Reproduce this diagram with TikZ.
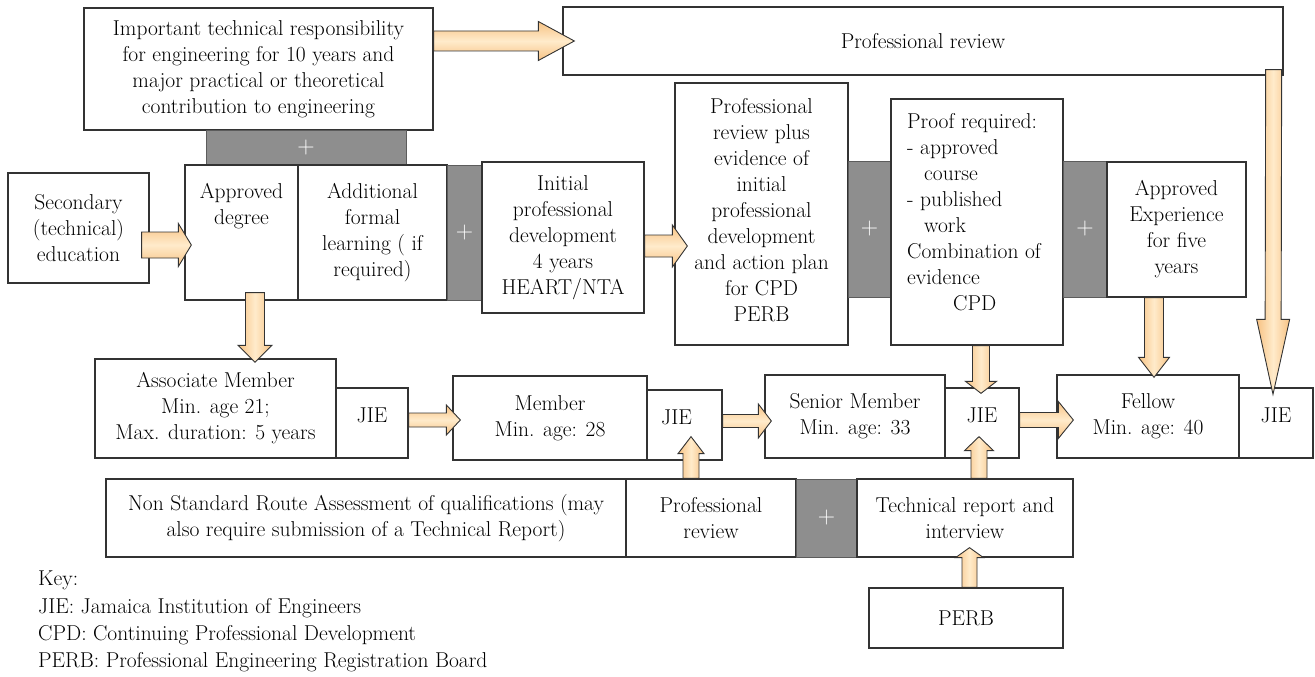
\documentclass[tikz,border=0pt]{standalone}
\usepackage{fontspec}
\newcommand\tnr{\rmfamily}
\usetikzlibrary{calc}
\definecolor{ao}{HTML}{F7C283}
\definecolor{ai}{HTML}{FFEBCB}
\definecolor{gfill}{HTML}{8E8E8E}
\definecolor{edge}{HTML}{333333}
\tikzset{
 box/.style={draw=edge,line width=1.3pt,fill=white,inner sep=0pt,align=center,font=\tnr\fontsize{21.5}{26}\selectfont},
 jiebox/.style={box,text depth=16pt},
 gbox/.style={draw=edge!80,line width=1pt,fill=gfill,inner sep=0pt,text=white,font=\tnr\fontsize{24}{24}\selectfont},
 rect/.style n args={4}{minimum width={(#3-#1)*1pt},minimum height={(#4-#2)*1pt},at={({(#1+#3)/2},{(#2+#4)/2})}},
 txt/.style={inner sep=0pt,align=center,font=\tnr\fontsize{21.5}{26}\selectfont},
 arr/.style={draw=edge,line width=0.9pt,line join=miter},
 harr/.style={arr,top color=ao,bottom color=ao,middle color=ai},
 varr/.style={arr,left color=ao,right color=ao,middle color=ai},
}
% block arrow: [style]{start}{tip}{shaft half}{head half}{head length}
\newcommand\barrow[6][harr]{%
 \coordinate (bh) at ($(#3)!#6pt!(#2)$);
 \draw[#1] ($(#2)!#4pt!90:(#3)$) -- ($(bh)!#4pt!90:(#3)$) -- ($(bh)!#5pt!90:(#3)$) -- (#3)
   -- ($(bh)!#5pt!-90:(#3)$) -- ($(bh)!#4pt!-90:(#3)$) -- ($(#2)!#4pt!-90:(#3)$) -- cycle;
}
\begin{document}
\begin{tikzpicture}[x=1pt,y=-1pt]
\useasboundingbox (0,0) rectangle (1315,677);
\fill[white] (0,0) rectangle (1315,677);
% row 1
\node[box,rect={84}{8}{433}{130}] (imp) {Important technical responsibility\\for engineering for 10 years and\\major practical or theoretical\\contribution to engineering};
\node[gbox,rect={206}{130}{406}{165}] (g1) {+};
\node[box,rect={563}{7}{1283}{75}] (prt) {Professional review};
% row 2
\node[box,rect={8}{173}{149}{283}] (sec) {Secondary\\(technical)\\education};
\node[box,rect={185}{165}{298}{300}] (appr) {};
\node[txt,anchor=north] (apprt) at (241.5,183) {Approved\\degree};
\node[box,rect={298}{165}{447}{300}] (addl) {Additional\\formal\\learning ( if\\required)};
\node[gbox,rect={447}{165}{482}{300}] (g2) {+};
\node[box,rect={482}{162}{644}{313}] (init) {Initial\\professional\\development\\4 years\\HEART/NTA};
\node[box,rect={675}{83}{848}{345}] (prp) {};
\node[txt] (prpt) at (761.5,210) {Professional\\review plus\\evidence of\\initial\\professional\\development\\and action plan\\for CPD\\PERB};
\node[gbox,rect={848}{161}{891}{297}] (g3) {+};
\node[box,rect={891}{99}{1063}{345}] (proof) {};
\node[txt,align=left,anchor=north west] (prooft) at (907,113) {Proof required:\\- approved\\\hspace*{17pt}course\\- published\\\hspace*{17pt}work\\Combination of\\evidence\\\hspace*{46pt}CPD};
\node[gbox,rect={1063}{161}{1107}{297}] (g4) {+};
\node[box,rect={1107}{162}{1246}{297}] (aexp) {Approved\\Experience\\for five\\years};
% row 3
\node[box,rect={95}{359}{336}{458}] (assoc) {Associate Member\\Min. age 21;\\Max. duration: 5 years};
\node[jiebox,rect={336}{388}{408}{458}] (jie1) {JIE};
\node[box,rect={453}{376}{647}{460}] (mem) {Member\\Min. age: 28};
\node[jiebox,rect={647}{390}{722}{460}] (jie2) {\hspace*{-16pt}JIE};
\node[box,rect={765}{375}{945}{458}] (sen) {Senior Member\\Min. age: 33};
\node[jiebox,rect={945}{388}{1019}{458}] (jie3) {JIE};
\node[box,rect={1057}{375}{1239}{458}] (fel) {Fellow\\Min. age: 40};
\node[jiebox,rect={1239}{388}{1313}{458}] (jie4) {JIE};
% row 4
\node[box,rect={106}{479}{626}{557}] (nsr) {Non Standard Route Assessment of qualifications (may\\also require submission of a Technical Report)};
\node[box,rect={626}{479}{796}{557}] (prb) {Professional\\review};
\node[gbox,rect={796}{479}{857}{557}] (g5) {+};
\node[box,rect={857}{479}{1073}{557}] (tech) {Technical report and\\interview};
\node[box,rect={869}{588}{1063}{648}] (perb) {PERB};
% key
\node[txt,align=left,anchor=north west,font=\tnr\fontsize{21.5}{27.3}\selectfont] (key) at (38,571) {Key:\\JIE: Jamaica Institution of Engineers\\CPD: Continuing Professional Development\\PERB: Professional Engineering Registration Board};
% connectors
\coordinate (a1s) at (imp.east |- prt.west);
\coordinate (a1e) at ($(prt.west)+(12,0)$);
\barrow{a1s}{a1e}{10}{19.5}{36}
\coordinate (a2s) at ($(sec.east)+(-8,17)$);
\coordinate (a2e) at ($(appr.west)+(7,12.5)$);
\barrow{a2s}{a2e}{13}{21.5}{13}
\coordinate (a3s) at ($(appr.south)+(13.5,-8)$);
\coordinate (a3e) at ($(assoc.north)+(39.5,4)$);
\barrow[varr]{a3s}{a3e}{9.5}{17}{17}
\coordinate (a4s) at ($(init.east)+(0,8.5)$);
\coordinate (a4e) at ($(prp.west)+(13,32)$);
\barrow{a4s}{a4e}{11}{21}{15}
\coordinate (a5s) at ($(proof.south)+(4,0)$);
\coordinate (a5e) at ($(jie3.north)+(-1,6)$);
\barrow[varr]{a5s}{a5e}{8.5}{15.5}{12}
\coordinate (a6s) at ($(aexp.south)+(-22.5,0)$);
\coordinate (a6e) at ($(fel.north)+(6,3)$);
\barrow[varr]{a6s}{a6e}{9.5}{15.5}{20}
\coordinate (a7s) at ($(prt.south east)+(-10,-6)$);
\coordinate (a7e) at ($(jie4.north)+(-3,7)$);
\barrow[varr]{a7s}{a7e}{8}{16.5}{75}
\coordinate (a8s) at ($(jie1.east)+(0,-3)$);
\coordinate (a8e) at ($(mem.west)+(8,2)$);
\barrow{a8s}{a8e}{7}{15}{14}
\coordinate (a9s) at ($(jie2.east)+(0,-4)$);
\coordinate (a9e) at ($(sen.west)+(7,4.5)$);
\barrow{a9s}{a9e}{6.5}{17}{13}
\coordinate (a10s) at ($(jie3.east)+(0,-3)$);
\coordinate (a10e) at ($(fel.west)+(17,3.5)$);
\barrow{a10s}{a10e}{7.5}{18.5}{15}
\coordinate (a11s) at ($(prb.north)+(-20,0)$);
\coordinate (a11e) at ($(jie2.south)+(6.5,-24)$);
\barrow[varr]{a11s}{a11e}{8}{13}{17}
\coordinate (a12s) at ($(tech.north)+(14,0)$);
\coordinate (a12e) at ($(jie3.south)+(-3,-22)$);
\barrow[varr]{a12s}{a12e}{8}{14.5}{14}
\coordinate (a13s) at ($(perb.north)+(3.5,0)$);
\coordinate (a13e) at ($(tech.south)+(4.5,-10)$);
\barrow[varr]{a13s}{a13e}{7.5}{14}{10}
\end{tikzpicture}
\end{document}
